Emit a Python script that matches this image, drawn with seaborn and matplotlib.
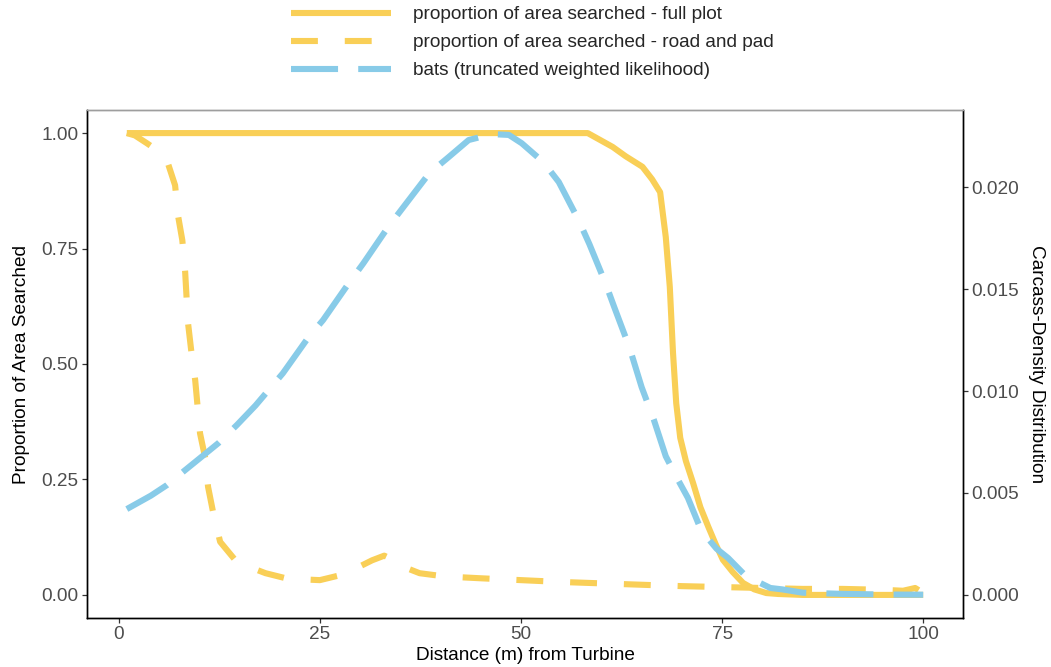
import numpy as np
import pandas as pd
import matplotlib
matplotlib.use("Agg")
import matplotlib.pyplot as plt
import seaborn as sns

# ---- data ----
x_full = [1, 20, 40, 58.3, 61.4, 63, 65.1, 66.3, 67.3, 68.0, 68.5, 68.9, 69.3, 69.8,
          70.5, 71.4, 72.3, 73.3, 74.2, 75.1, 76.3, 77.6, 79, 80.5, 82, 85, 90, 95, 100]
y_full = [1.0, 1.0, 1.0, 1.0, 0.97, 0.95, 0.927, 0.90, 0.872, 0.775, 0.667, 0.524, 0.415, 0.34,
          0.29, 0.242, 0.19, 0.147, 0.11, 0.076, 0.05, 0.026, 0.012, 0.004, 0.002, 0.0, 0.0, 0.0, 0.0]

x_road = [1, 2, 3.5, 5, 6.1, 7, 7.4, 7.9, 8.25, 8.6, 9, 9.5, 10.1, 10.75, 11.1, 11.75, 12.6,
          14.5, 16, 18.25, 21, 25, 27.6, 30, 31.5, 33, 34.1, 35.5, 37.4, 40.5, 45, 50,
          55, 60, 65, 70, 75, 80, 85, 90, 95, 97.5, 99, 100]
y_road = [1.0, 0.995, 0.978, 0.96, 0.935, 0.887, 0.818, 0.768, 0.70, 0.59, 0.53, 0.465, 0.35,
          0.296, 0.234, 0.177, 0.115, 0.075, 0.062, 0.047, 0.035, 0.032, 0.043, 0.062, 0.075,
          0.085, 0.076, 0.06, 0.047, 0.04, 0.036, 0.032, 0.028, 0.025, 0.022, 0.019, 0.017,
          0.015, 0.013, 0.013, 0.011, 0.009, 0.015, 0.004]

x_bat = [1, 4, 6, 8.25, 10, 12.4, 14.7, 17, 20.4, 23.5, 25.4, 28.6, 30.4, 33.5, 35.4, 38.6,
         41, 43.5, 46.4, 48.5, 50.1, 52.8, 54.7, 57.2, 58.5, 60.5, 61.6, 63.5, 65.0, 66.5,
         68.0, 69.5, 70.75, 72.4, 74.3, 75.75, 78, 79.25, 81, 82.5, 85, 90, 95, 100]
dens_bat = [0.00421, 0.00487, 0.00539, 0.00612, 0.00668, 0.00745, 0.00834, 0.00929, 0.01087,
            0.01259, 0.01348, 0.01529, 0.01626, 0.01805, 0.01903, 0.02068, 0.02147, 0.02231,
            0.02260, 0.02256, 0.02215, 0.02122, 0.02025, 0.01835, 0.01721, 0.01529, 0.01411,
            0.01212, 0.01019, 0.00861, 0.00680, 0.00566, 0.00476, 0.00317, 0.00227, 0.00181,
            0.00091, 0.00068, 0.00034, 0.00027, 0.00011, 0.00005, 0.00002, 0.00001]

x_ticks = [0, 25, 50, 75, 100]
y_ticks_left = [0.00, 0.25, 0.50, 0.75, 1.00]
y_ticks_right = [0.000, 0.005, 0.010, 0.015, 0.020]
dens_scale = 0.02265  # right-axis value that corresponds to 1.00 on the left axis

labels = ["proportion of area searched - full plot",
          "proportion of area searched - road and pad",
          "bats (truncated weighted likelihood)"]

YELLOW = "#F9CF57"
BLUE = "#88CBE8"
LW = 4.4

sns.set_theme(style="white")
plt.rcParams["font.family"] = ["Liberation Sans", "DejaVu Sans"]

fig = plt.figure(figsize=(10.51, 6.67), dpi=100)
ax = fig.add_axes([87 / 1051, 1 - 618 / 667, (963 - 87) / 1051, (618 - 110) / 667])
ax2 = ax.twinx()

df_full = pd.DataFrame({"x": x_full, "y": y_full})
df_road = pd.DataFrame({"x": x_road, "y": y_road})
df_bat = pd.DataFrame({"x": x_bat, "y": dens_bat})

sns.lineplot(data=df_full, x="x", y="y", ax=ax, color=YELLOW, lw=LW,
             solid_capstyle="butt", label=labels[0], legend=False)
sns.lineplot(data=df_road, x="x", y="y", ax=ax, color=YELLOW, lw=LW,
             linestyle=(0, (4.4, 4.4)), dash_capstyle="butt", label=labels[1], legend=False)
sns.lineplot(data=df_bat, x="x", y="y", ax=ax2, color=BLUE, lw=LW,
             linestyle=(0, (7.7, 3.3)), dash_capstyle="butt", label=labels[2], legend=False)

ax.set_xlim(-3.95, 104.95)
ax.set_ylim(-0.05, 1.05)
ax2.set_ylim(-0.05 * dens_scale, 1.05 * dens_scale)

ax.set_xticks(x_ticks)
ax.set_xticklabels([str(t) for t in x_ticks])
ax.set_yticks(y_ticks_left)
ax.set_yticklabels([f"{t:.2f}" for t in y_ticks_left])
ax2.set_yticks(y_ticks_right)
ax2.set_yticklabels([f"{t:.3f}" for t in y_ticks_right])

FS = 13.7
for a in (ax, ax2):
    a.tick_params(axis="both", which="major", length=3.5, width=0.9, color="#333333",
                  labelsize=FS, labelcolor="#4D4D4D", pad=2.5)
ax.tick_params(left=True, bottom=True)
ax2.tick_params(right=True)

ax.set_xlabel("Distance (m) from Turbine", fontsize=FS, color="black", labelpad=2.5)
ax.set_ylabel("Proportion of Area Searched", fontsize=FS, color="black", labelpad=8)
ax2.set_ylabel("Carcass-Density Distribution", fontsize=FS, color="black",
               rotation=270, labelpad=19)

for a in (ax, ax2):
    for side in ("left", "bottom", "right"):
        a.spines[side].set_color("black")
        a.spines[side].set_linewidth(1.0)
    a.spines["top"].set_color("#9E9E9E")
    a.spines["top"].set_linewidth(1.0)

h1, l1 = ax.get_legend_handles_labels()
h2, l2 = ax2.get_legend_handles_labels()
leg = fig.legend(h1 + h2, l1 + l2, loc="upper left", bbox_to_anchor=(289 / 1051, 0.994),
                 frameon=False, fontsize=FS, handlelength=5.25, handletextpad=1.15,
                 labelspacing=0.56, borderaxespad=0.0, borderpad=0.1)

fig.savefig("out.png", dpi=100)
